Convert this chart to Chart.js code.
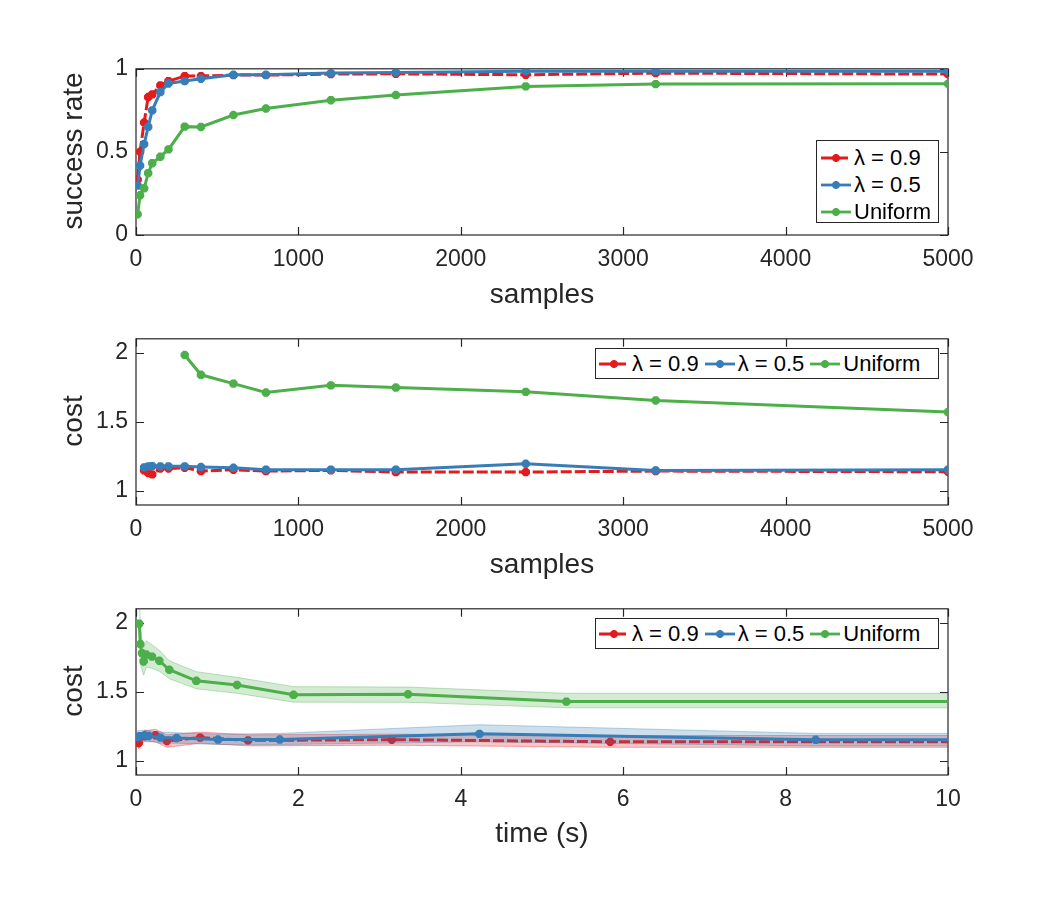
<!DOCTYPE html>
<html>
<head>
<meta charset="utf-8">
<script src="https://cdn.jsdelivr.net/npm/chart.js@4.4.1/dist/chart.umd.min.js"></script>
<style>
  body { margin: 0; background: #fff; font-family: "Liberation Sans", Arial, sans-serif; }
  #page { position: relative; width: 1049px; height: 900px; overflow: hidden; }
  .plot { position: absolute; left: 0; }
  .lbl { position: absolute; font-size: 28px; line-height: 28px; color: #262626; white-space: nowrap; }
  .ylbl { transform: translate(-50%, -50%) rotate(-90deg); }
  .xlbl { transform: translateX(-50%); }
  .legend { position: absolute; background: #fff; border: 1px solid #262626; box-sizing: border-box;
            font-size: 22px; color: #000; }
  .legend .item { display: flex; align-items: center; white-space: nowrap; }
  .legend svg { flex: none; margin-right: 3px; }
  .legend.horiz { display: flex; align-items: center; padding-left: 3px; }
  .legend.horiz .item { margin-right: 6px; }
  .legend.vert { padding: 3px 0 0 4px; }
  .legend.vert .item { height: 27px; }
</style>
</head>
<body>
<div id="page">
  <canvas id="c1" class="plot" width="1049" height="270" style="top:47px"></canvas>
  <canvas id="c2" class="plot" width="1049" height="270" style="top:317px"></canvas>
  <canvas id="c3" class="plot" width="1049" height="270" style="top:587px"></canvas>

  <div class="lbl ylbl" style="left:73px; top:151px">success rate</div>
  <div class="lbl xlbl" style="left:542px; top:280px">samples</div>
  <div class="lbl ylbl" style="left:73px; top:421px">cost</div>
  <div class="lbl xlbl" style="left:542px; top:550px">samples</div>
  <div class="lbl ylbl" style="left:73px; top:691px">cost</div>
  <div class="lbl xlbl" style="left:542px; top:819px">time (s)</div>

  <div id="leg1" class="legend vert" style="left:816px; top:140px; width:123px; height:83px"></div>
  <div id="leg2" class="legend horiz" style="left:595px; top:348px; width:344px; height:31px"></div>
  <div id="leg3" class="legend horiz" style="left:595px; top:618px; width:344px; height:31px"></div>
</div>

<script>
// ---- data ----
const seriesNames = ['\u03bb = 0.9', '\u03bb = 0.5', 'Uniform'];
const seriesColors = ['#e41a1c', '#377eb8', '#4daf4a'];

// success rate vs samples
const samples = [10, 25, 50, 75, 100, 150, 200, 300, 400, 600, 800, 1200, 1600, 2400, 3200, 5000];
const rateRed  = [0.333, 0.501, 0.677, 0.830, 0.846, 0.900, 0.926, 0.956, 0.956, 0.962, 0.962, 0.968, 0.970, 0.964, 0.974, 0.968];
const rateBlue = [0.297, 0.417, 0.547, 0.651, 0.750, 0.860, 0.912, 0.926, 0.940, 0.964, 0.964, 0.974, 0.978, 0.986, 0.986, 0.986];
const rateUni  = [0.125, 0.239, 0.281, 0.372, 0.432, 0.471, 0.515, 0.652, 0.650, 0.722, 0.761, 0.811, 0.842, 0.894, 0.908, 0.910];

// cost vs samples
const costSamples    = [50, 75, 100, 150, 200, 300, 400, 600, 800, 1200, 1600, 2400, 3200, 5000];
const costRed        = [1.150, 1.131, 1.121, 1.164, 1.164, 1.169, 1.145, 1.155, 1.145, 1.150, 1.138, 1.138, 1.145, 1.140];
const costBlue       = [1.172, 1.179, 1.181, 1.179, 1.179, 1.179, 1.174, 1.169, 1.155, 1.155, 1.155, 1.198, 1.150, 1.155];
const costUniSamples = [300, 400, 600, 800, 1200, 1600, 2400, 3200, 5000];
const costUni        = [1.983, 1.840, 1.776, 1.712, 1.764, 1.748, 1.717, 1.655, 1.571];

// cost vs time, with spread bands
const timeRed  = [0.02, 0.033, 0.10, 0.24, 0.38, 0.79, 1.38, 3.15, 5.84, 10];
const tcRed    = [1.165, 1.131, 1.180, 1.187, 1.146, 1.170, 1.150, 1.155, 1.140, 1.140];
const tcRedHi  = [1.210, 1.180, 1.220, 1.230, 1.190, 1.210, 1.190, 1.195, 1.185, 1.185];
const tcRedLo  = [1.120, 1.090, 1.140, 1.140, 1.100, 1.130, 1.110, 1.115, 1.100, 1.100];

const timeBlue = [0.012, 0.053, 0.107, 0.156, 0.30, 0.50, 1.01, 1.77, 4.23, 8.37, 10];
const tcBlue   = [1.175, 1.180, 1.187, 1.182, 1.170, 1.167, 1.156, 1.156, 1.197, 1.154, 1.154];
const tcBlueHi = [1.220, 1.220, 1.225, 1.220, 1.210, 1.205, 1.195, 1.200, 1.263, 1.200, 1.200];
const tcBlueLo = [1.130, 1.140, 1.150, 1.145, 1.130, 1.130, 1.120, 1.120, 1.140, 1.110, 1.110];

const timeUni  = [0.04, 0.053, 0.074, 0.094, 0.127, 0.197, 0.287, 0.41, 0.743, 1.244, 1.94, 3.35, 5.30, 10];
const tcUni    = [1.993, 1.845, 1.780, 1.720, 1.770, 1.755, 1.725, 1.660, 1.580, 1.550, 1.479, 1.483, 1.430, 1.430];
const tcUniHi  = [2.250, 2.000, 1.880, 1.820, 1.870, 1.840, 1.800, 1.725, 1.646, 1.605, 1.538, 1.535, 1.490, 1.490];
const tcUniLo  = [1.800, 1.700, 1.660, 1.620, 1.680, 1.670, 1.650, 1.595, 1.522, 1.490, 1.426, 1.425, 1.385, 1.385];

// axis ticks
const xTicksSamples = [0, 1000, 2000, 3000, 4000, 5000];
const xTicksTime = [0, 2, 4, 6, 8, 10];
const yTicksRate = [0, 0.5, 1];
const yTicksCost = [1, 1.5, 2];

const FONT = '"Liberation Sans", Arial, sans-serif';
const INK = '#262626';
const MARK_R = 4.2;

function pts(xs, ys) {
  return xs.map((x, i) => ({ x: x, y: ys[i] }));
}

// MATLAB-like box with inward ticks on all four sides
const framePlugin = {
  id: 'frame',
  beforeDatasetsDraw(chart) {
    const { ctx, chartArea: a, scales: { x, y } } = chart;
    const len = 8;
    ctx.save();
    ctx.strokeStyle = INK;
    ctx.lineWidth = 1.2;
    ctx.strokeRect(a.left, a.top, a.right - a.left, a.bottom - a.top);
    ctx.beginPath();
    x.ticks.forEach(t => {
      const px = Math.round(x.getPixelForValue(t.value)) + 0.5;
      ctx.moveTo(px, a.bottom); ctx.lineTo(px, a.bottom - len);
      ctx.moveTo(px, a.top); ctx.lineTo(px, a.top + len);
    });
    y.ticks.forEach(t => {
      const py = Math.round(y.getPixelForValue(t.value)) + 0.5;
      ctx.moveTo(a.left, py); ctx.lineTo(a.left + len, py);
      ctx.moveTo(a.right, py); ctx.lineTo(a.right - len, py);
    });
    ctx.stroke();
    ctx.restore();
  }
};

function lineSet(data, idx, order, extra) {
  return Object.assign({
    data: data,
    borderColor: seriesColors[idx],
    backgroundColor: seriesColors[idx],
    pointBackgroundColor: seriesColors[idx],
    pointBorderColor: seriesColors[idx],
    borderWidth: 3,
    borderDash: idx === 0 ? [11, 3] : [],
    pointStyle: 'star',
    pointRadius: MARK_R,
    pointBorderWidth: 3.2,
    fill: false,
    tension: 0,
    order: order
  }, extra || {});
}

function bandSets(hi, lo, xs, rgb, order) {
  return [
    { data: pts(xs, hi), borderColor: 'rgba(' + rgb + ',0.35)', borderWidth: 1,
      backgroundColor: 'rgba(' + rgb + ',0.25)', pointRadius: 0, fill: '+1', order: order, clip: 0 },
    { data: pts(xs, lo), borderColor: 'rgba(' + rgb + ',0.35)', borderWidth: 1,
      pointRadius: 0, fill: false, order: order, clip: 0 }
  ];
}

function makeChart(id, datasets, xr, yr) {
  return new Chart(document.getElementById(id), {
    type: 'line',
    data: { datasets: datasets },
    options: {
      responsive: false,
      animation: false,
      layout: { padding: { top: 20, right: 101, left: 0, bottom: 0 } },
      plugins: { legend: { display: false }, tooltip: { enabled: false } },
      scales: {
        x: {
          type: 'linear', min: xr.min, max: xr.max,
          afterBuildTicks: s => { s.ticks = xr.ticks.map(v => ({ value: v })); },
          afterFit: s => { s.height = 82; },
          grid: { display: false, drawTicks: false },
          border: { display: false },
          ticks: { color: INK, font: { family: FONT, size: 23 }, padding: 11, maxRotation: 0,
                   autoSkip: false, callback: v => String(v) }
        },
        y: {
          type: 'linear', min: yr.min, max: yr.max,
          afterBuildTicks: s => { s.ticks = yr.ticks.map(v => ({ value: v })); },
          afterFit: s => { s.width = 136; },
          grid: { display: false, drawTicks: false },
          border: { display: false },
          ticks: { color: INK, font: { family: FONT, size: 23 }, padding: 8,
                   callback: v => String(v) }
        }
      }
    },
    plugins: [framePlugin]
  });
}

// top: success rate
makeChart('c1', [
  lineSet(pts(samples, rateRed), 0, 3),
  lineSet(pts(samples, rateBlue), 1, 2),
  lineSet(pts(samples, rateUni), 2, 1)
], { min: 0, max: 5000, ticks: xTicksSamples }, { min: 0, max: 1, ticks: yTicksRate });

// middle: cost vs samples
makeChart('c2', [
  lineSet(pts(costSamples, costRed), 0, 3),
  lineSet(pts(costSamples, costBlue), 1, 2),
  lineSet(pts(costUniSamples, costUni), 2, 1)
], { min: 0, max: 5000, ticks: xTicksSamples }, { min: 0.9, max: 2.1, ticks: yTicksCost });

// bottom: cost vs time with bands
const hideAtEdge = { pointRadius: c => (c.raw && c.raw.x >= 10 ? 0 : MARK_R) };
makeChart('c3', [
  lineSet(pts(timeUni, tcUni), 2, 1, hideAtEdge),
  ...bandSets(tcUniHi, tcUniLo, timeUni, '77,175,74', 2),
  lineSet(pts(timeBlue, tcBlue), 1, 3, hideAtEdge),
  ...bandSets(tcBlueHi, tcBlueLo, timeBlue, '55,126,184', 4),
  lineSet(pts(timeRed, tcRed), 0, 5, hideAtEdge),
  ...bandSets(tcRedHi, tcRedLo, timeRed, '228,26,28', 6)
], { min: 0, max: 10, ticks: xTicksTime }, { min: 0.9, max: 2.1, ticks: yTicksCost });

// legends
function sampleSvg(idx) {
  const c = seriesColors[idx];
  const dash = idx === 0 ? ' stroke-dasharray="12 3"' : '';
  return '<svg width="30" height="14" viewBox="0 0 30 14">' +
    '<line x1="0" y1="7" x2="30" y2="7" stroke="' + c + '" stroke-width="2.8"' + dash + '/>' +
    '<g stroke="' + c + '" stroke-width="2.8">' +
    '<line x1="11" y1="7" x2="19" y2="7"/><line x1="15" y1="3" x2="15" y2="11"/>' +
    '<line x1="12.2" y1="4.2" x2="17.8" y2="9.8"/><line x1="12.2" y1="9.8" x2="17.8" y2="4.2"/>' +
    '</g></svg>';
}
['leg1', 'leg2', 'leg3'].forEach(id => {
  document.getElementById(id).innerHTML = seriesNames.map((n, i) =>
    '<div class="item">' + sampleSvg(i) + '<span>' + n + '</span></div>').join('');
});
</script>
</body>
</html>
